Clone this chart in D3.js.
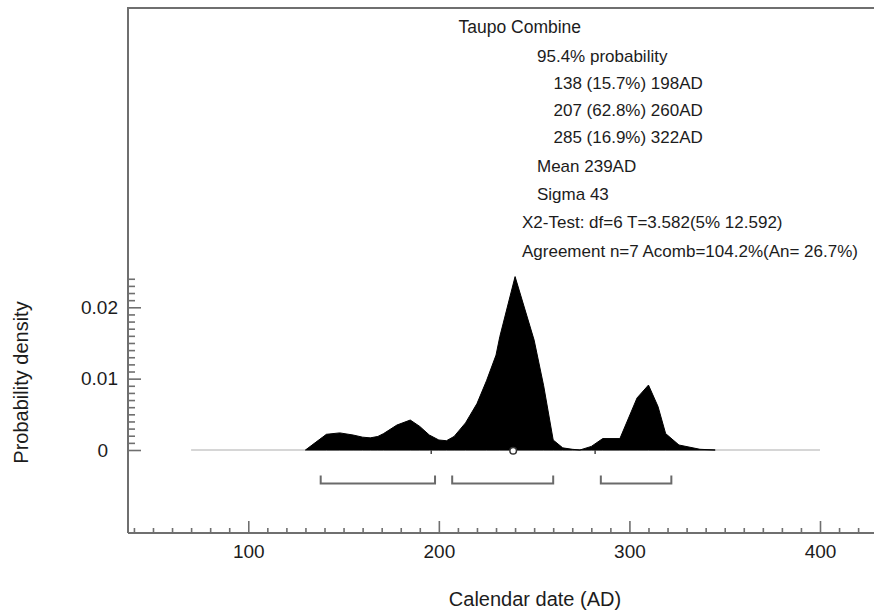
<!DOCTYPE html>
<html>
<head>
<meta charset="utf-8">
<script src="https://cdn.jsdelivr.net/npm/d3@7"></script>
<style>
    body { margin: 0; background: #fff; }
    svg text { font-family: "Liberation Sans", Arial, sans-serif; fill: #1c1c1c; }
</style>
</head>
<body>
<oxcal-plot></oxcal-plot>
<script>
// probability density (year AD, density)
const densityYears = [130, 135, 141, 148, 155, 160, 164, 168, 171, 178, 185, 190, 195, 200, 204, 208, 214, 220, 225, 230, 232, 240, 250, 255, 260, 265, 270, 274, 280, 286, 295, 304, 310, 315, 319, 326, 337, 345];
const densityValues = [0, 0.0010, 0.0022, 0.0024, 0.0021, 0.0018, 0.0017, 0.0019, 0.0023, 0.0035, 0.0042, 0.0033, 0.0021, 0.0014, 0.0013, 0.0019, 0.0038, 0.0065, 0.0097, 0.0133, 0.0159, 0.0243, 0.0154, 0.0090, 0.0014, 0.0003, 0.0001, 0, 0.0005, 0.0016, 0.0016, 0.0073, 0.0091, 0.0061, 0.0023, 0.0007, 0.0001, 0];

const baselineRange = [70, 400];
const rangeStarts = [138, 207, 285];
const rangeEnds = [198, 260, 322];
const meanYear = 239;
const sigma = 43;

const xMajorTicks = [100, 200, 300, 400];
const xMinorTicks = [40, 50, 60, 70, 80, 90, 110, 120, 130, 140, 150, 160, 170, 180, 190, 210, 220, 230, 240, 250, 260, 270, 280, 290, 310, 320, 330, 340, 350, 360, 370, 380, 390, 410, 420];
const yMajorTicks = [0, 0.01, 0.02];
const yMinorTicks = [0.001, 0.002, 0.003, 0.004, 0.005, 0.006, 0.007, 0.008, 0.009, 0.011, 0.012, 0.013, 0.014, 0.015, 0.016, 0.017, 0.018, 0.019, 0.021, 0.022, 0.023, 0.024];

const titleText = 'Taupo Combine';
const infoLines = [
    '95.4% probability',
    '138 (15.7%) 198AD',
    '207 (62.8%) 260AD',
    '285 (16.9%) 322AD',
    'Mean 239AD',
    'Sigma 43',
    'X2-Test: df=6 T=3.582(5% 12.592)',
    'Agreement n=7 Acomb=104.2%(An= 26.7%)'
];

class OxcalPlot extends HTMLElement {
    constructor() {
        super();

        this.width = 874;
        this.height = 614;
        this.frameLeft = 128;
        this.frameTop = 8;
        this.frameBottom = 533;
        this.axisColor = '#6f6f6f';

        this.svg = d3.select(this)
            .append('svg')
            .attr('width', this.width)
            .attr('height', this.height);

        this.data = densityYears.map((y, i) => ({ year: y, p: densityValues[i] }));
    }
    //----------------------------------------------------------------------------
    connectedCallback() {
        this.#scaling();
        this.#drawFrame();
        this.#drawAxis();
        this.#drawArea();
        this.#drawRanges();
        this.#drawText();
    }
    //----------------------------------------------------------------------------
    #scaling() {
        this.xScale = d3.scaleLinear()
            .domain([0, 400])
            .range([57.7, 820]);

        this.yScale = d3.scaleLinear()
            .domain([0, 0.02])
            .range([450, 307.3]);
    }
    //----------------------------------------------------------------------------
    #drawFrame() {
        this.svg.append('path')
            .attr('d', `M${this.frameLeft},${this.frameBottom}V${this.frameTop}H${this.width + 5}`)
            .attr('fill', 'none')
            .attr('stroke', this.axisColor)
            .attr('stroke-width', 2);

        this.svg.append('line')
            .attr('x1', this.frameLeft).attr('x2', this.width + 5)
            .attr('y1', this.frameBottom).attr('y2', this.frameBottom)
            .attr('stroke', this.axisColor)
            .attr('stroke-width', 2);
    }
    //----------------------------------------------------------------------------
    #drawAxis() {
        // X axis, ticks pointing up
        const xMinor = d3.axisBottom(this.xScale)
            .tickValues(xMinorTicks).tickSize(-5).tickFormat('');
        const xMajor = d3.axisBottom(this.xScale)
            .tickValues(xMajorTicks).tickSize(-12).tickPadding(11.5);

        [xMinor, xMajor].forEach(ax => {
            const g = this.svg.append('g')
                .attr('transform', `translate(0, ${this.frameBottom})`)
                .call(ax);
            this.#styleAxis(g);
        });

        // Y axis, ticks pointing right
        const yMinor = d3.axisLeft(this.yScale)
            .tickValues(yMinorTicks).tickSize(-7).tickFormat('');
        const yMajor = d3.axisLeft(this.yScale)
            .tickValues(yMajorTicks).tickSize(-13).tickPadding(10)
            .tickFormat(d => d === 0 ? '0' : d3.format('.2f')(d));

        [yMinor, yMajor].forEach(ax => {
            const g = this.svg.append('g')
                .attr('transform', `translate(${this.frameLeft}, 0)`)
                .call(ax);
            this.#styleAxis(g);
        });

        // the zero label sits a little further left
        this.svg.selectAll('.tick text')
            .filter(d => d === 0)
            .attr('x', -20);

        this.svg.append('text')
            .attr('transform', 'translate(28, 382.5) rotate(-90)')
            .attr('text-anchor', 'middle')
            .attr('font-size', 20)
            .text('Probability density');

        this.svg.append('text')
            .attr('x', 535)
            .attr('y', 605.5)
            .attr('text-anchor', 'middle')
            .attr('font-size', 20)
            .text('Calendar date (AD)');
    }
    //----------------------------------------------------------------------------
    #styleAxis(g) {
        g.select('.domain').remove();
        g.selectAll('.tick line')
            .attr('stroke', this.axisColor)
            .attr('stroke-width', 1.6);
        g.selectAll('.tick text')
            .attr('font-size', 19)
            .attr('fill', '#1c1c1c');
        g.attr('font-family', null);
    }
    //----------------------------------------------------------------------------
    #drawArea() {
        const y0 = this.yScale(0);

        this.svg.append('line')
            .attr('x1', this.xScale(baselineRange[0]))
            .attr('x2', this.xScale(baselineRange[1]))
            .attr('y1', y0).attr('y2', y0)
            .attr('stroke', '#d6d6d6')
            .attr('stroke-width', 2);

        const area = d3.area()
            .x(d => this.xScale(d.year))
            .y0(y0)
            .y1(d => this.yScale(d.p));

        this.svg.append('path')
            .attr('d', area(this.data))
            .attr('fill', '#000')
            .attr('stroke', '#000')
            .attr('stroke-width', 1)
            .attr('stroke-linejoin', 'round');

        // mean +/- sigma marks
        [meanYear - sigma, meanYear + sigma].forEach(v => {
            this.svg.append('line')
                .attr('x1', this.xScale(v)).attr('x2', this.xScale(v))
                .attr('y1', y0).attr('y2', y0 + 4)
                .attr('stroke', '#444')
                .attr('stroke-width', 1.5);
        });

        this.svg.append('circle')
            .attr('cx', this.xScale(meanYear))
            .attr('cy', y0 + 0.7)
            .attr('r', 3.3)
            .attr('fill', '#fff')
            .attr('stroke', '#333')
            .attr('stroke-width', 1.5);
    }
    //----------------------------------------------------------------------------
    #drawRanges() {
        const yb = 483.5;
        rangeStarts.forEach((s, i) => {
            const a = this.xScale(s);
            const b = this.xScale(rangeEnds[i]);
            this.svg.append('path')
                .attr('d', `M${a},${yb - 8}V${yb}H${b}V${yb - 8}`)
                .attr('fill', 'none')
                .attr('stroke', '#6a6a6a')
                .attr('stroke-width', 2);
        });
    }
    //----------------------------------------------------------------------------
    #drawText() {
        this.svg.append('text')
            .attr('x', 458.5)
            .attr('y', 33.3)
            .attr('font-size', 17.5)
            .text(titleText);

        const lineX = [537, 553.5, 553.5, 553.5, 537, 537, 522, 522];
        const lineY = [61.5, 89.3, 116, 142.7, 171.7, 200, 228.3, 256.7];

        this.svg.selectAll('text.info')
            .data(infoLines)
            .join('text')
            .attr('class', 'info')
            .attr('x', (d, i) => lineX[i])
            .attr('y', (d, i) => lineY[i])
            .attr('font-size', 17)
            .text(d => d);
    }
    //----------------------------------------------------------------------------
    static define(tag = 'oxcal-plot') {
        customElements.define(tag, this);
    }
}

OxcalPlot.define();
</script>
</body>
</html>
